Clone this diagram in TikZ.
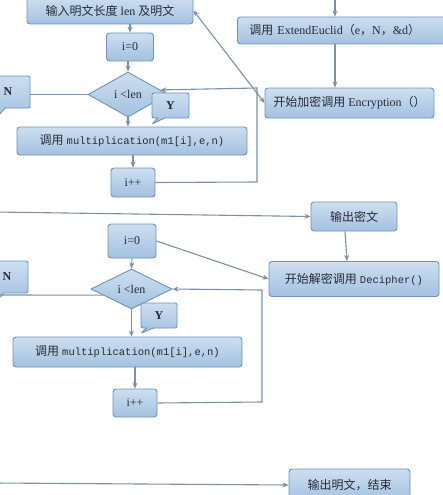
\documentclass[tikz,border=0pt]{standalone}
\usepackage{fontspec}
\setmainfont{Liberation Serif}
\setmonofont{Liberation Mono}
\newfontfamily\cjk{Noto Sans CJK SC}
\usetikzlibrary{shapes.geometric,shapes.callouts,arrows.meta,calc}
\definecolor{boxtop}{RGB}{205,223,240}
\definecolor{boxbot}{RGB}{163,193,224}
\definecolor{boxline}{RGB}{112,146,182}
\definecolor{conn}{RGB}{125,145,165}
\definecolor{txt}{RGB}{40,42,55}
\tikzset{
  fbox/.style={draw=boxline, line width=0.9pt, rounded corners=3pt, top color=boxtop, bottom color=boxbot,
    inner sep=0pt, text=txt, font=\fontsize{12}{14}\selectfont},
  fdia/.style={diamond, draw=boxline, line width=0.9pt, top color=boxtop, bottom color=boxbot,
    inner sep=0pt, shape aspect=2, text=txt, font=\fontsize{12}{14}\selectfont},
  fcall/.style={rectangle callout, draw=boxline, line width=0.9pt, rounded corners=2pt, top color=boxtop, bottom color=boxbot,
    inner sep=0pt, text=txt, font=\bfseries\fontsize{12}{14}\selectfont},
  arr/.style={draw=conn, line width=1.1pt, -{Stealth[length=6pt,width=5pt]}},
  arrtwo/.style={draw=conn, line width=1.1pt, {Stealth[length=6pt,width=5pt]}-{Stealth[length=6pt,width=5pt]}},
  ln/.style={draw=conn, line width=1.1pt}
}
\begin{document}
\begin{tikzpicture}[x=1pt,y=-1pt]
\useasboundingbox (0,0) rectangle (443,495);
\clip (0,0) rectangle (443,495);
\fill[white] (0,0) rectangle (443,495);
% ---- top section
\node[fbox, minimum width=166pt, minimum height=27pt] (in1) at (110,10.5) {{\cjk 输入明文长度} len {\cjk 及明文}};
\node[fbox, minimum width=47pt, minimum height=28pt] (i0a) at (130,47) {i=0};
\node[fdia, minimum width=80pt, minimum height=45pt] (da) at (128,94.5) {i <len};
\node[fcall, minimum width=40pt, minimum height=32pt, callout absolute pointer={(-3,117)}] (Na) at (10,92) {\hspace*{-4pt}N};
\node[fcall, minimum width=37pt, minimum height=25pt, callout absolute pointer={(152,124)}] (Ya) at (170.5,105.5) {Y};
\node[fbox, minimum width=230pt, minimum height=28pt] (ma) at (132,141) {{\cjk 调用} {\ttfamily\fontsize{10.5}{12}\selectfont multiplication(m1[i],e,n)}};
\node[fbox, minimum width=44pt, minimum height=29pt] (ia) at (133,182.5) {i++};
\node[fbox, anchor=west, minimum height=27pt, text width=205pt, align=left, inner xsep=12pt] (ee) at (237,30.5)
  {{\cjk 调用} ExtendEuclid{\cjk （}e{\cjk ，}N{\cjk ，}\&d{\cjk ）}};
\node[fbox, minimum width=169pt, minimum height=30pt] (enc) at (349.5,103) {{\cjk 开始加密调用} Encryption{\cjk （）}};
\node[fbox, minimum width=86pt, minimum height=29pt] (outc) at (354,216.5) {\cjk 输出密文};
% ---- bottom section
\node[fbox, minimum width=48pt, minimum height=34pt] (i0b) at (132,241) {i=0};
\node[fbox, minimum width=170pt, minimum height=35pt] (dec) at (354,279) {{\cjk 开始解密调用} {\ttfamily\fontsize{10.5}{12}\selectfont Decipher()}};
\node[fdia, minimum width=81pt, minimum height=40pt] (db) at (131.5,289) {i <len};
\node[fcall, minimum width=38pt, minimum height=32pt, callout absolute pointer={(-3,300)}] (Nb) at (9,277) {\hspace*{-4pt}N};
\node[fcall, minimum width=36pt, minimum height=25pt, callout absolute pointer={(141,333)}] (Yb) at (159,315.5) {Y};
\node[fbox, minimum width=229pt, minimum height=30pt] (mb) at (127.5,352) {{\cjk 调用} {\ttfamily\fontsize{10.5}{12}\selectfont multiplication(m1[i],e,n)}};
\node[fbox, minimum width=44pt, minimum height=28pt] (ib) at (135,403) {i++};
\node[fbox, minimum width=121pt, minimum height=32pt] (oute) at (349.5,485) {\cjk 输出明文，结束};
% ---- coordinates
\coordinate (tp) at (335,-5);
\coordinate (la) at (257,182);
\coordinate (lb) at (257,88);
\coordinate (lc) at (-5,212);
\coordinate (lnb) at (-5,295);
\coordinate (ld) at (262,402);
\coordinate (le) at (262,290);
\coordinate (lf) at (-5,483);
% ---- connectors top
\draw[arr] (i0a.north |- in1.south) -- (i0a.north);
\draw[arr] (i0a.south -| da.north) -- (da.north);
\draw[ln] (da.west) -- (Na.east |- da.west);
\draw[arr] (da.south) -- (da.south |- ma.north);
\draw[arr] (ia.north |- ma.south) -- (ia.north);
\draw[arr] (ia.east) -- (la) -- (lb) -- ($(da.east)!0.2!(da.north)$);
\draw[arr] (tp) -- (tp |- ee.north);
\draw[arr] (tp |- ee.south) -- (tp |- enc.north);
\draw[arrtwo] (enc.west) -- (in1.east);
\draw[arr] (lc) -- (outc.west);
% ---- connectors bottom
\draw[arr] (i0b.east) -- (dec.west);
\draw[arr] ([xshift=-9pt]outc.south) -- ([xshift=-7pt]dec.north);
\draw[arr] (i0b.south) -- (db.north);
\draw[ln] ($(db.west)!0.3!(db.south)$) -- (lnb);
\draw[arr] (db.south) -- (db.south |- mb.north);
\draw[arr] (ib.north |- mb.south) -- (ib.north);
\draw[arr] (ib.east) -- (ld) -- (le) -- (db.east);
\draw[arr] (lf) -- (oute.west);
\end{tikzpicture}
\end{document}
